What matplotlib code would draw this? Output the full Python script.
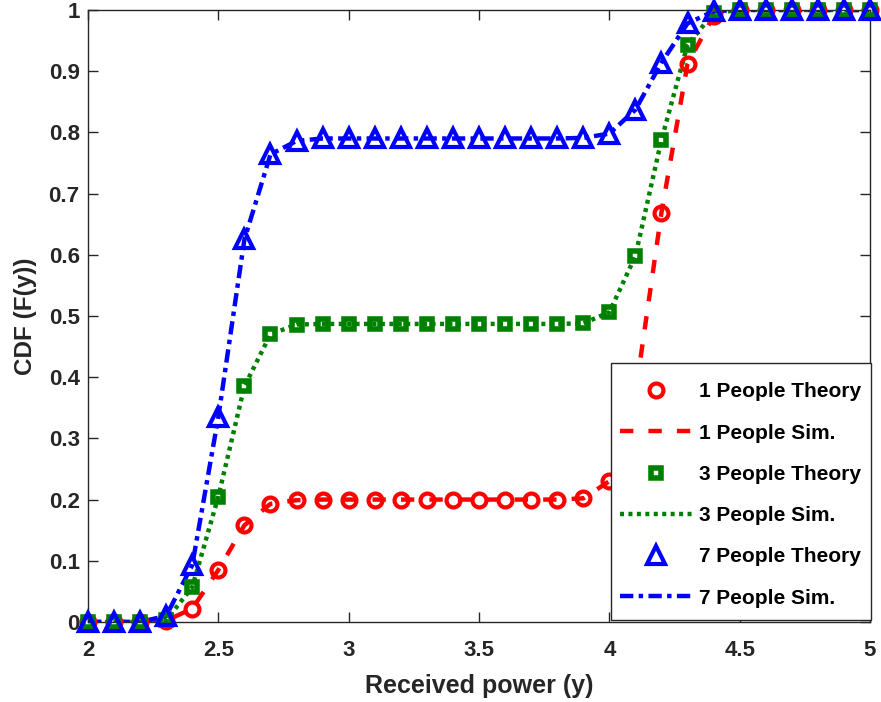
import matplotlib
matplotlib.use("Agg")
import matplotlib.pyplot as plt
from matplotlib.patches import Rectangle
import numpy as np

x = [2.0, 2.1, 2.2, 2.3, 2.4, 2.5, 2.6, 2.7, 2.8, 2.9, 3.0, 3.1, 3.2, 3.3, 3.4, 3.5,
     3.6, 3.7, 3.8, 3.9, 4.0, 4.1, 4.2, 4.3, 4.4, 4.5, 4.6, 4.7, 4.8, 4.9, 5.0]

p1_theory = [0.0, 0.0, 0.0, 0.002, 0.022, 0.085, 0.158, 0.193, 0.199, 0.2, 0.2, 0.2, 0.2, 0.2, 0.2, 0.2,
             0.2, 0.2, 0.2, 0.202, 0.23, 0.373, 0.669, 0.912, 0.99, 1.0, 1.0, 1.0, 1.0, 1.0, 1.0]
p1_sim = p1_theory

p3_theory = [0.0, 0.0, 0.0, 0.003, 0.057, 0.205, 0.385, 0.47, 0.486, 0.487, 0.487, 0.487, 0.487, 0.487, 0.487, 0.487,
             0.487, 0.487, 0.487, 0.488, 0.506, 0.598, 0.788, 0.943, 0.995, 1.0, 1.0, 1.0, 1.0, 1.0, 1.0]
p3_sim = p3_theory

p7_theory = [0.0, 0.0, 0.0, 0.01, 0.093, 0.335, 0.625, 0.764, 0.786, 0.79, 0.79, 0.79, 0.79, 0.79, 0.79, 0.79,
             0.79, 0.79, 0.79, 0.791, 0.798, 0.837, 0.914, 0.978, 0.998, 1.0, 1.0, 1.0, 1.0, 1.0, 1.0]
p7_sim = p7_theory

labels = ["1 People Theory", "1 People Sim.", "3 People Theory", "3 People Sim.",
          "7 People Theory", "7 People Sim."]

plt.rcParams['font.family'] = ['Liberation Sans', 'DejaVu Sans']
plt.rcParams['font.weight'] = 'bold'

fig = plt.figure(figsize=(8.81, 7.02), dpi=100)
ax = fig.add_axes([0.0999, 0.114, 0.8876, 0.8718])

red = '#ff0000'
green = '#008000'
blue = '#0000ff'
lw = 3.2

ax.plot(x, p1_theory, linestyle='none', marker='o', ms=10, mew=3, mfc='none', mec=red,
        label=labels[0], clip_on=False, zorder=3)
ax.plot(x, p1_sim, color=red, lw=lw, dashes=(3.0, 3.4), label=labels[1], zorder=2)
ax.plot(x, p3_theory, linestyle='none', marker='s', ms=7.5, mew=4, mfc='none', mec=green,
        label=labels[2], clip_on=False, zorder=3)
ax.plot(x, p3_sim, color=green, lw=lw, dashes=(0.9, 1.0), label=labels[3], zorder=2)
ax.plot(x, p7_theory, linestyle='none', marker='^', ms=12.5, mew=3, mfc='none', mec=blue,
        label=labels[4], clip_on=False, zorder=3)
ax.plot(x, p7_sim, color=blue, lw=lw, dashes=(3.0, 1.2, 1.0, 1.2), label=labels[5], zorder=2)

ax.set_xlim(2, 5)
ax.set_ylim(0, 1)
ax.set_xticks([2, 2.5, 3, 3.5, 4, 4.5, 5])
ax.set_xticklabels(['2', '2.5', '3', '3.5', '4', '4.5', '5'])
ax.set_yticks(np.arange(0, 11) / 10)
ax.set_yticklabels(['0', '0.1', '0.2', '0.3', '0.4', '0.5', '0.6', '0.7', '0.8', '0.9', '1'])

tc = '#262626'
ax.tick_params(direction='in', length=7, width=1, top=True, right=True, colors=tc,
               labelsize=16)
ax.tick_params(axis='x', pad=13)
ax.tick_params(axis='y', pad=6)
for lab in ax.get_xticklabels() + ax.get_yticklabels():
    lab.set_fontweight('bold')
for s in ax.spines.values():
    s.set_color(tc)
    s.set_linewidth(1)

ax.set_xlabel('Received power (y)', fontsize=18, fontweight='bold', color=tc, labelpad=9)
ax.set_ylabel('CDF (F(y))', fontsize=17.5, fontweight='bold', color=tc, labelpad=8)

# legend frame (MATLAB-style box flush with the lower-right corner)
frame = Rectangle((0.6688, 0.003), 1.0013 - 0.6688, 0.423 - 0.003, transform=ax.transAxes,
                  facecolor='white', edgecolor=tc, linewidth=1, clip_on=False, zorder=4)
ax.add_patch(frame)

leg = ax.legend(loc='center', bbox_to_anchor=(0.835, 0.2075), fontsize=15, frameon=False,
                handlelength=3.45, labelspacing=1.07, borderpad=0.4, handletextpad=0.35)
leg.set_zorder(5)
for t in leg.get_texts():
    t.set_fontweight('bold')
    t.set_color('black')

fig.savefig('out.png', dpi=100)
